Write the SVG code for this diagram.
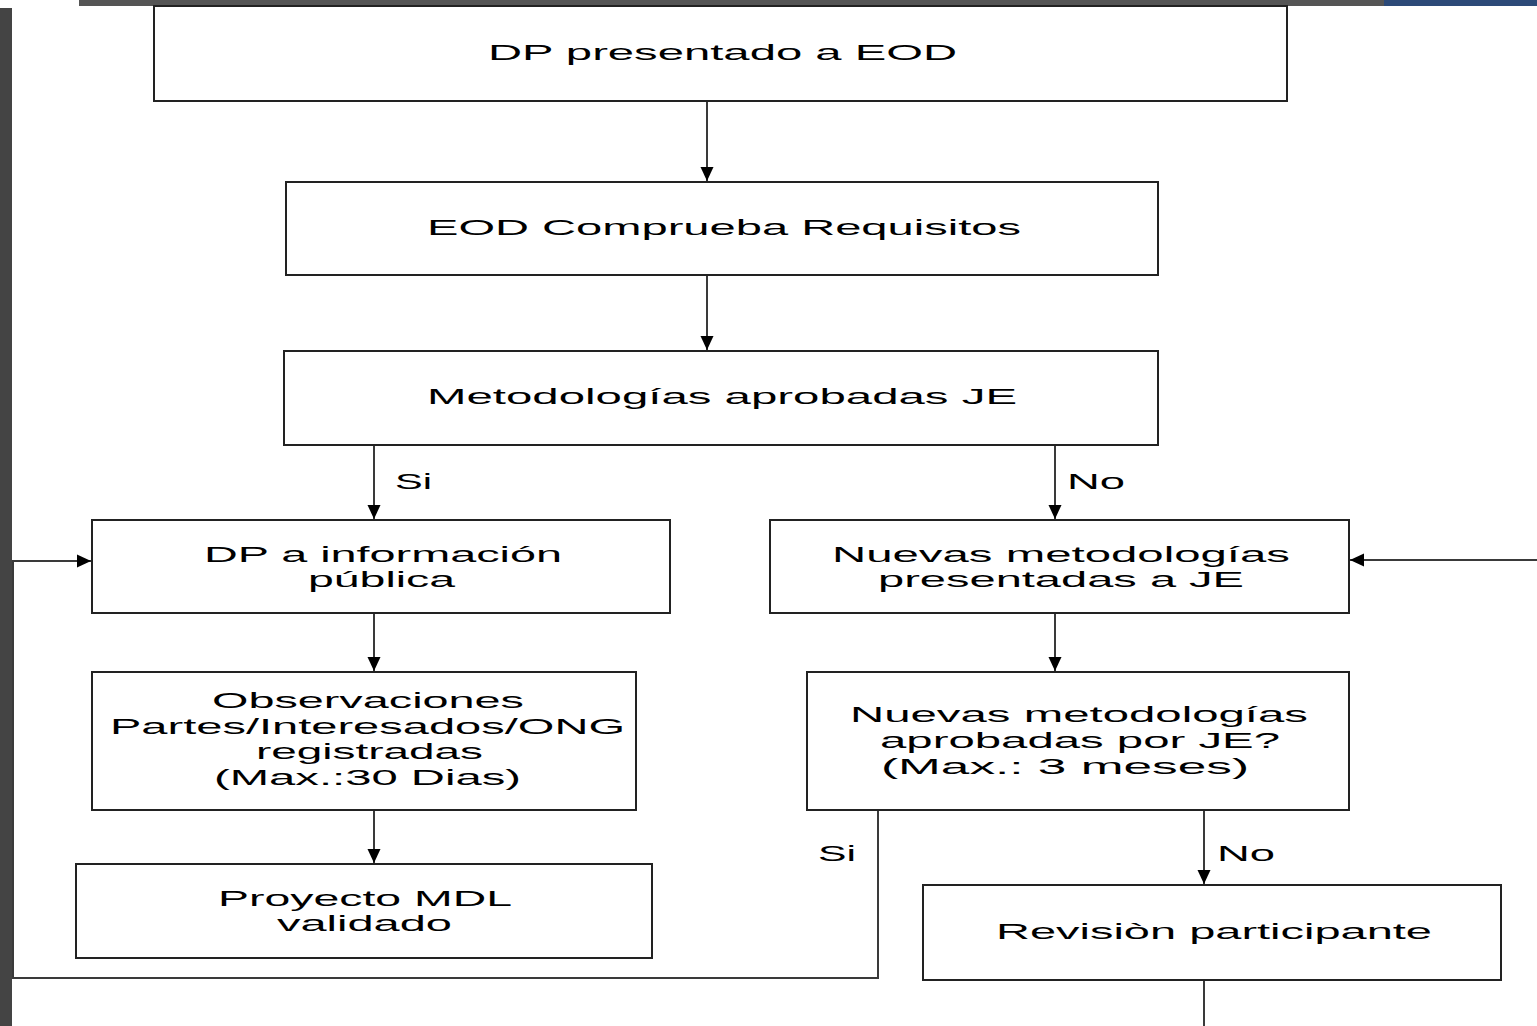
<svg xmlns="http://www.w3.org/2000/svg" width="1537" height="1026" viewBox="0 0 1537 1026">
<style>
.box{fill:#fff;stroke:#222;stroke-width:2}
.t{font-family:"Liberation Sans",Arial,sans-serif;font-size:22px;fill:#000;text-anchor:middle}
.c{fill:none;stroke:#3a3a3a;stroke-width:2}
</style>
<defs>
<marker id="ah" markerUnits="userSpaceOnUse" markerWidth="16" markerHeight="16" viewBox="0 0 16 16" refX="14" refY="8" orient="auto">
<path d="M0,1.5 L14,8 L0,14.5 Z" fill="#000"/>
</marker>
</defs>
<rect x="0" y="0" width="1537" height="1026" fill="#fff"/>
<g id="frame">
<rect x="79" y="0" width="1305" height="6" fill="#555"/>
<rect x="1384" y="0" width="153" height="6" fill="#2c4a78"/>
<rect x="0" y="8" width="12" height="1018" fill="#444"/>
</g>
<g id="connectors">
<line class="c" x1="707" y1="101" x2="707" y2="181" marker-end="url(#ah)"/>
<line class="c" x1="707" y1="275" x2="707" y2="350" marker-end="url(#ah)"/>
<line class="c" x1="374" y1="445" x2="374" y2="519" marker-end="url(#ah)"/>
<line class="c" x1="1055" y1="445" x2="1055" y2="519" marker-end="url(#ah)"/>
<line class="c" x1="374" y1="613" x2="374" y2="671" marker-end="url(#ah)"/>
<line class="c" x1="1055" y1="613" x2="1055" y2="671" marker-end="url(#ah)"/>
<line class="c" x1="374" y1="810" x2="374" y2="863" marker-end="url(#ah)"/>
<line class="c" x1="1204" y1="810" x2="1204" y2="884" marker-end="url(#ah)"/>
<polyline class="c" points="878,810 878,978 13,978 13,561 91,561" marker-end="url(#ah)"/>
<line class="c" x1="1537" y1="560" x2="1350" y2="560" marker-end="url(#ah)"/>
<line class="c" x1="1204" y1="980" x2="1204" y2="1026"/>
<text class="t" x="413.5" y="489" textLength="37" lengthAdjust="spacingAndGlyphs">Si</text>
<text class="t" x="1096" y="489" textLength="58" lengthAdjust="spacingAndGlyphs">No</text>
<text class="t" x="837" y="861" textLength="38" lengthAdjust="spacingAndGlyphs">Si</text>
<text class="t" x="1246" y="861" textLength="58" lengthAdjust="spacingAndGlyphs">No</text>
</g>
<g id="n1">
<rect class="box" x="154" y="6" width="1133" height="95"/>
<text class="t" x="722.5" y="60" textLength="469" lengthAdjust="spacingAndGlyphs">DP presentado a EOD</text>
</g>
<g id="n2">
<rect class="box" x="286" y="182" width="872" height="93"/>
<text class="t" x="724" y="235" textLength="594" lengthAdjust="spacingAndGlyphs">EOD Comprueba Requisitos</text>
</g>
<g id="n3">
<rect class="box" x="284" y="351" width="874" height="94"/>
<text class="t" x="722" y="404" textLength="590" lengthAdjust="spacingAndGlyphs">Metodologías aprobadas JE</text>
</g>
<g id="n4">
<rect class="box" x="92" y="520" width="578" height="93"/>
<text class="t" x="383" y="562" textLength="358" lengthAdjust="spacingAndGlyphs">DP a información</text>
<text class="t" x="381.5" y="587" textLength="147" lengthAdjust="spacingAndGlyphs">pública</text>
</g>
<g id="n5">
<rect class="box" x="770" y="520" width="579" height="93"/>
<text class="t" x="1061" y="562" textLength="458" lengthAdjust="spacingAndGlyphs">Nuevas metodologías</text>
<text class="t" x="1061" y="587" textLength="366" lengthAdjust="spacingAndGlyphs">presentadas a JE</text>
</g>
<g id="n6">
<rect class="box" x="92" y="672" width="544" height="138"/>
<text class="t" x="368" y="708" textLength="312" lengthAdjust="spacingAndGlyphs">Observaciones</text>
<text class="t" x="367.5" y="734" textLength="515" lengthAdjust="spacingAndGlyphs">Partes/Interesados/ONG</text>
<text class="t" x="369.5" y="759" textLength="227" lengthAdjust="spacingAndGlyphs">registradas</text>
<text class="t" x="367.5" y="785" textLength="307" lengthAdjust="spacingAndGlyphs">(Max.:30 Dias)</text>
</g>
<g id="n7">
<rect class="box" x="807" y="672" width="542" height="138"/>
<text class="t" x="1079" y="722" textLength="458" lengthAdjust="spacingAndGlyphs">Nuevas metodologías</text>
<text class="t" x="1080" y="748" textLength="400" lengthAdjust="spacingAndGlyphs">aprobadas por JE?</text>
<text class="t" x="1065" y="774" textLength="368" lengthAdjust="spacingAndGlyphs">(Max.: 3 meses)</text>
</g>
<g id="n8">
<rect class="box" x="76" y="864" width="576" height="94"/>
<text class="t" x="365" y="906" textLength="294" lengthAdjust="spacingAndGlyphs">Proyecto MDL</text>
<text class="t" x="364.5" y="931" textLength="175" lengthAdjust="spacingAndGlyphs">validado</text>
</g>
<g id="n9">
<rect class="box" x="923" y="885" width="578" height="95"/>
<text class="t" x="1214" y="939" textLength="436" lengthAdjust="spacingAndGlyphs">Revisiòn participante</text>
</g>
</svg>
